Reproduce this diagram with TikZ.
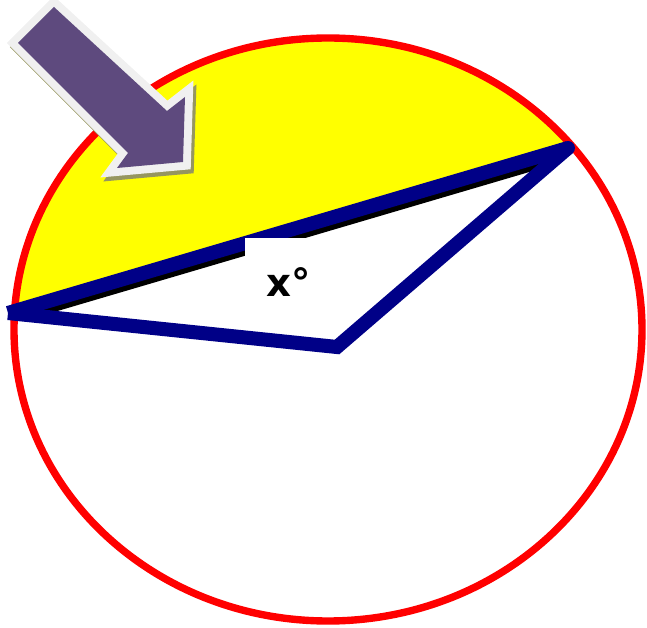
\documentclass[tikz,border=0pt]{standalone}
\usepackage{fontspec}
\newfontfamily\labelfont{DejaVu Sans}
\usetikzlibrary{positioning}

\definecolor{segyellow}{RGB}{255,255,0}
\definecolor{rimred}{RGB}{255,0,0}
\definecolor{chordblue}{RGB}{0,0,135}
\definecolor{arrowpurple}{RGB}{94,74,126}
\definecolor{arrowrim}{RGB}{240,240,240}
\definecolor{arrowshade}{RGB}{150,150,95}

\begin{document}
\begin{tikzpicture}[
        x=0.02cm,
        y=-0.02cm,
        rim/.style={
            draw=rimred,
            line width=4.2pt
        },
        chord/.style={
            chordblue,
            line width=8pt
        },
        chordedge/.style={
            black,
            line width=8pt,
            shorten <=14pt,
            shorten >=14pt
        },
        radius/.style={
            chordblue,
            line width=8pt,
            line join=miter
        },
        anglelabel/.style={
            font=\labelfont\bfseries\fontsize{22}{26}\selectfont,
            inner sep=0pt
        },
        pointer/.style={
            fill=arrowpurple
        },
        pointerrim/.style={
            draw=arrowrim,
            fill=arrowrim,
            line width=9pt,
            line join=miter
        },
        pointershade/.style={
            draw=arrowshade,
            fill=arrowshade,
            line width=9pt,
            line join=miter
        }
    ]

        \useasboundingbox (0,0) rectangle (647,628);

        % ---------------------------------------------------------------------
        % Points of the figure
        % ---------------------------------------------------------------------

        \coordinate (centre) at (328,329.5);
        \coordinate (left) at (8,313);
        \coordinate (vertex) at (337,347);
        \coordinate (right) at (568,148);

        % ---------------------------------------------------------------------
        % Shaded segment and circle
        % ---------------------------------------------------------------------

        \begin{scope}
            \clip (centre) ellipse [x radius=314, y radius=291.5];
            \fill[segyellow]
                (0,315) -- (647,125) -- (647,0) -- (0,0) -- cycle;
        \end{scope}

        \draw[rim] (centre) ellipse [x radius=314, y radius=291.5];

        % ---------------------------------------------------------------------
        % Chord and the angle at the vertex
        % ---------------------------------------------------------------------

        \draw[chordedge] ([yshift=-3]left) -- ([yshift=-3]right);
        \draw[chord] (left) -- (right);

        \fill[white] (245,238) rectangle (330,325);

        \draw[radius] (left) -- (vertex) -- (right);
        \fill[chordblue] (right) circle (7);

        \node[
            anglelabel,
            anchor=base west
        ] (angle) at (266,297) {x°};

        % ---------------------------------------------------------------------
        % Pointer to the segment
        % ---------------------------------------------------------------------

        \begin{scope}[shift={(3,4)}]
            \draw[pointershade]
                (18,43) -- (54,7) -- (167,111) -- (185,97)
                -- (183,162) -- (117,168) -- (128,153) -- cycle;
        \end{scope}

        \draw[pointerrim]
            (18,43) -- (54,7) -- (167,111) -- (185,97)
            -- (183,162) -- (117,168) -- (128,153) -- cycle;

        \fill[pointer]
            (18,43) -- (54,7) -- (167,111) -- (185,97)
            -- (183,162) -- (117,168) -- (128,153) -- cycle;

    \end{tikzpicture}
\end{document}
